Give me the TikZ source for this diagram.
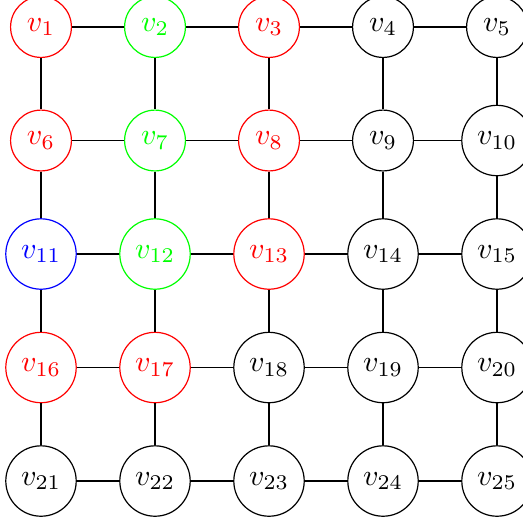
\documentclass[tikz,border=0pt]{standalone}
\begin{document}
\begin{tikzpicture}[x=0.3333pt,y=-0.3333pt,
  vert/.style={circle,draw,fill=white,font=\normalsize}]
\clip (0,0) rectangle (523,520);
\useasboundingbox (0,0) rectangle (523,520);
\foreach \j in {0,...,4}{
  \foreach \i in {0,...,4}{
    \pgfmathtruncatemacro{\n}{\j*5+\i+1}
    \def\col{black}
    \ifnum\n=1 \def\col{red}\fi
    \ifnum\n=3 \def\col{red}\fi
    \ifnum\n=6 \def\col{red}\fi
    \ifnum\n=8 \def\col{red}\fi
    \ifnum\n=13 \def\col{red}\fi
    \ifnum\n=16 \def\col{red}\fi
    \ifnum\n=17 \def\col{red}\fi
    \ifnum\n=2 \def\col{green}\fi
    \ifnum\n=7 \def\col{green}\fi
    \ifnum\n=12 \def\col{green}\fi
    \ifnum\n=11 \def\col{blue}\fi
    \node[vert,draw=\col,text=\col] (v\n) at (41+114*\i,27+113.5*\j) {$v_{\n}$};
  }
}
\foreach \j in {0,...,4}{
  \foreach \i in {1,...,4}{
    \pgfmathtruncatemacro{\a}{\j*5+\i}
    \pgfmathtruncatemacro{\b}{\j*5+\i+1}
    \draw (v\a) -- (v\b);
  }
}
\foreach \j in {0,...,3}{
  \foreach \i in {1,...,5}{
    \pgfmathtruncatemacro{\a}{\j*5+\i}
    \pgfmathtruncatemacro{\b}{\j*5+\i+5}
    \draw (v\a) -- (v\b);
  }
}
\end{tikzpicture}
\end{document}
